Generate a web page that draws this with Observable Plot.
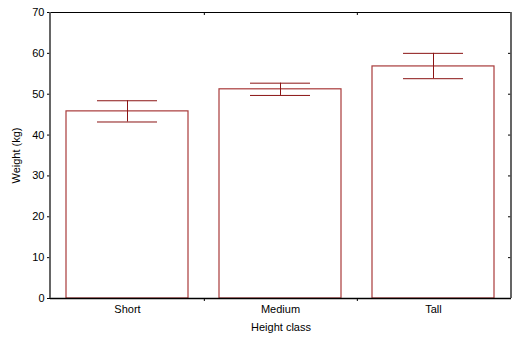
<!DOCTYPE html>
<html>
<head>
<meta charset="utf-8">
<script src="https://cdn.jsdelivr.net/npm/d3@7"></script>
<script src="https://cdn.jsdelivr.net/npm/@observablehq/plot@0.6"></script>
<style>
  html, body { margin: 0; padding: 0; background: #fff; }
  #chart svg { display: block; }
</style>
</head>
<body>
<div id="chart"></div>
<script>
// Mean weight by height class with error bars
const categories = ["Short", "Medium", "Tall"];
const means = [45.8, 51.2, 56.8];
const lower = [43.2, 49.7, 53.8];
const upper = [48.4, 52.7, 60.0];
const yTicks = [0, 10, 20, 30, 40, 50, 60, 70];
// boundaries between neighbouring classes (drawn half a step to the right of these)
const boundaries = ["Short", "Medium"];

const data = categories.map((c, i) => ({cls: c, mean: means[i], lo: lower[i], hi: upper[i]}));

const W = 516, H = 340;
const mL = 50, mR = 5, mT = 12, mB = 42;
const frameW = W - mL - mR, frameH = H - mT - mB;
const step = frameW / (categories.length - 0.2 + 0.2);
const barColor = "#a83a3a";
const errColor = "#8b1414";

const chart = Plot.plot({
  width: W,
  height: H,
  marginLeft: mL,
  marginRight: mR,
  marginTop: mT,
  marginBottom: mB,
  style: {fontFamily: "'Liberation Sans', Arial, sans-serif", fontSize: "11px", color: "#000", background: "#fff"},
  x: {domain: categories, paddingInner: 0.2, paddingOuter: 0.1},
  y: {domain: [0, 70]},
  marks: [
    Plot.barY(data, {x: "cls", y: "mean", fill: "white", stroke: barColor, strokeWidth: 1.2}),
    Plot.ruleX(data, {x: "cls", y1: "lo", y2: "hi", stroke: errColor, strokeWidth: 1}),
    Plot.tickY(data, {x: "cls", y: "hi", stroke: errColor, strokeWidth: 1, insetLeft: 31, insetRight: 31}),
    Plot.tickY(data, {x: "cls", y: "lo", stroke: errColor, strokeWidth: 1, insetLeft: 31, insetRight: 31}),
    // frame
    Plot.ruleY([70], {stroke: "#000", strokeWidth: 1}),
    Plot.ruleY([0], {stroke: "#000", strokeWidth: 1.5}),
    // inward ticks on the right edge
    Plot.ruleY(yTicks, {stroke: "#000", insetLeft: frameW - 3}),
    // class boundary ticks: inward at top, outward at bottom
    Plot.ruleX(boundaries, {x: d => d, dx: step / 2, stroke: "#000", insetBottom: frameH - 3}),
    Plot.ruleX(boundaries, {x: d => d, dx: step / 2, stroke: "#000", insetTop: frameH, insetBottom: -3}),
    Plot.axisY({ticks: yTicks, tickSize: 3, tickPadding: 3, label: "Weight (kg)", labelAnchor: "center", labelArrow: "none", labelOffset: 38}),
    Plot.axisX({tickSize: 0, tickPadding: 7, label: "Height class", labelAnchor: "center", labelArrow: "none", labelOffset: 32})
  ]
});

// gray side lines of the frame
const svg = d3.select(chart);
svg.append("line").attr("x1", mL).attr("x2", mL).attr("y1", mT).attr("y2", H - mB)
  .attr("stroke", "#555").attr("stroke-width", 1.8);
svg.append("line").attr("x1", W - mR).attr("x2", W - mR).attr("y1", mT).attr("y2", H - mB)
  .attr("stroke", "#555").attr("stroke-width", 1.8);

document.getElementById("chart").append(chart);
</script>
</body>
</html>
